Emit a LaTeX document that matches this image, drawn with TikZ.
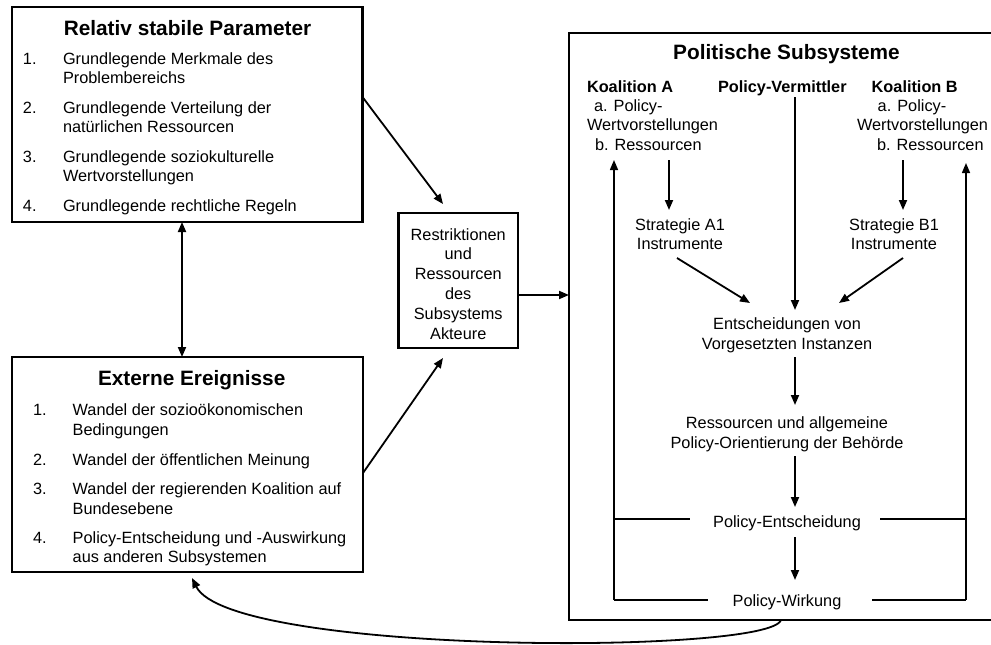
\documentclass[tikz,border=0pt]{standalone}
\usepackage{fontspec}
\setmainfont{Liberation Sans}
\usetikzlibrary{arrows.meta}
\begin{document}
\begin{tikzpicture}[x=1pt,y=-1pt,
  every node/.style={inner sep=0pt, outer sep=0pt},
  txt/.style={font=\fontsize{16.3}{19.5}\selectfont, anchor=base},
  txtw/.style={txt, anchor=base west},
  ttl/.style={font=\bfseries\fontsize{20.8}{24}\selectfont, anchor=base},
  sub/.style={font=\bfseries\fontsize{16.3}{19.5}\selectfont, anchor=base west},
  frame/.style={draw, line width=2.6pt},
  arr/.style={line width=1.8pt, -{Triangle[length=10pt,width=8pt]}},
  dbl/.style={line width=1.8pt, {Triangle[length=10pt,width=8pt]}-{Triangle[length=10pt,width=8pt]}},
  thinline/.style={line width=1.1pt},
  sideline/.style={line width=1.5pt, -{Triangle[length=10pt,width=8pt]}},
]
\useasboundingbox (0,0) rectangle (991,645);

% ---------- frames ----------
\node[frame, minimum width=350.5pt, minimum height=215pt] (rsp) at (187.25,114.5) {};
\node[frame, minimum width=351pt, minimum height=215pt] (ee) at (187.5,464.5) {};
\node[frame, line width=2.4pt, minimum width=119.5pt, minimum height=135pt] (mid) at (458.25,280.5) {};
\node[frame, minimum width=430pt, minimum height=587pt] (pss) at (784,326.5) {};

% ---------- box 1 ----------
\node[ttl] (t1) at (187.5,35) {Relativ stabile Parameter};
\node[txtw] (n11) at (23,64.5) {1.};
\node[txtw] (a11) at (63,64.5) {Grundlegende Merkmale des};
\node[txtw] (a12) at (63,83.5) {Problembereichs};
\node[txtw] (n12) at (23,113.5) {2.};
\node[txtw] (a21) at (63,113.5) {Grundlegende Verteilung der};
\node[txtw] (a22) at (63,132.5) {natürlichen Ressourcen};
\node[txtw] (n13) at (23,162.5) {3.};
\node[txtw] (a31) at (63,162.5) {Grundlegende soziokulturelle};
\node[txtw] (a32) at (63,181.5) {Wertvorstellungen};
\node[txtw] (n14) at (23,211.5) {4.};
\node[txtw] (a41) at (63,211.5) {Grundlegende rechtliche Regeln};

% ---------- box 2 ----------
\node[ttl] (t2) at (191.7,385) {Externe Ereignisse};
\node[txtw] (n21) at (33,415) {1.};
\node[txtw] (b11) at (72.7,415) {Wandel der sozioökonomischen};
\node[txtw] (b12) at (72.7,435) {Bedingungen};
\node[txtw] (n22) at (33,465) {2.};
\node[txtw] (b21) at (72.7,465) {Wandel der öffentlichen Meinung};
\node[txtw] (n23) at (33,494.5) {3.};
\node[txtw] (b31) at (72.7,494.5) {Wandel der regierenden Koalition auf};
\node[txtw] (b32) at (72.7,514.5) {Bundesebene};
\node[txtw] (n24) at (33,543) {4.};
\node[txtw] (b41) at (72.7,543) {Policy-Entscheidung und -Auswirkung};
\node[txtw] (b42) at (72.7,562) {aus anderen Subsystemen};

% ---------- middle box ----------
\node[txt] (m1) at (458.25,240) {Restriktionen};
\node[txt] (m2) at (458.25,259.8) {und};
\node[txt] (m3) at (458.25,279.6) {Ressourcen};
\node[txt] (m4) at (458.25,299.4) {des};
\node[txt] (m5) at (458.25,319.2) {Subsystems};
\node[txt] (m6) at (458.25,339) {Akteure};

% ---------- right box ----------
\node[ttl] (t3) at (786.5,59) {Politische Subsysteme};
\node[sub] (ka) at (587,92) {Koalition A};
\node[txtw] (ka1) at (594,111) {a. Policy-};
\node[txtw] (ka2) at (587,130.5) {Wertvorstellungen};
\node[txtw] (ka3) at (595,150) {b. Ressourcen};
\node[sub] (pv) at (718,92) {Policy-Vermittler};
\node[sub] (kb) at (871.7,92) {Koalition B};
\node[txtw] (kb1) at (877.7,111) {a. Policy-};
\node[txtw] (kb2) at (857,130.5) {Wertvorstellungen};
\node[txtw] (kb3) at (877,150) {b. Ressourcen};
\node[txt] (sa1) at (680,230) {Strategie A1};
\node[txt] (sa2) at (680,249.5) {Instrumente};
\node[txt] (sb1) at (894,230) {Strategie B1};
\node[txt] (sb2) at (894,249.5) {Instrumente};
\node[txt] (ev1) at (787,329) {Entscheidungen von};
\node[txt] (ev2) at (787,349) {Vorgesetzten Instanzen};
\node[txt] (rb1) at (787,428) {Ressourcen und allgemeine};
\node[txt] (rb2) at (787,448) {Policy-Orientierung der Behörde};
\node[txt] (pe) at (787,527) {Policy-Entscheidung};
\node[txt] (pw) at (787,606.7) {Policy-Wirkung};

% ---------- helper coordinates ----------
\coordinate (x182) at (182,0);
\coordinate (y97) at (0,97);
\coordinate (y295) at (0,295);
\coordinate (y473) at (0,473);
\coordinate (midTop) at (443,204);
\coordinate (midBot) at (443,358);
\coordinate (aDn1) at (669,160);
\coordinate (aDn2) at (669,210);
\coordinate (bDn1) at (903,160);
\coordinate (bDn2) at (903,210);
\coordinate (pv1) at (795,97);
\coordinate (pv2) at (795,310);
\coordinate (da1) at (677,258);
\coordinate (da2) at (750,303);
\coordinate (db1) at (903,258);
\coordinate (db2) at (839,303);
\coordinate (c1a) at (795,357);
\coordinate (c1b) at (795,405);
\coordinate (c2a) at (795,456);
\coordinate (c2b) at (795,507);
\coordinate (c3a) at (795,537);
\coordinate (c3b) at (795,580);
\coordinate (LB) at (614,600);
\coordinate (LT) at (614,160);
\coordinate (RB) at (966,600);
\coordinate (RT) at (966,163);
\coordinate (LE) at (614,519);
\coordinate (RE) at (966,519);
\coordinate (pel) at (690,519);
\coordinate (per) at (880,519);
\coordinate (pwl) at (708,600);
\coordinate (pwr) at (872,600);
\coordinate (cs) at (781,0);
\coordinate (ce) at (192,578);

% ---------- connectors ----------
\draw[dbl] (rsp.south -| x182) -- (ee.north -| x182);
\draw[arr] (rsp.east |- y97) -- (midTop);
\draw[arr] (ee.east |- y473) -- (midBot);
\draw[arr] (mid.east |- y295) -- (pss.west |- y295);

\draw[sideline] (LB) -- (LT);
\draw[sideline] (RB) -- (RT);
\draw[thinline] (LB) -- (pwl);
\draw[thinline] (pwr) -- (RB);
\draw[thinline] (LE) -- (pel);
\draw[thinline] (per) -- (RE);

\draw[arr] (aDn1) -- (aDn2);
\draw[arr] (bDn1) -- (bDn2);
\draw[arr] (pv1) -- (pv2);
\draw[arr] (da1) -- (da2);
\draw[arr] (db1) -- (db2);
\draw[arr] (c1a) -- (c1b);
\draw[arr] (c2a) -- (c2b);
\draw[arr] (c3a) -- (c3b);

\draw[arr] (pss.south -| cs) .. controls (770,655) and (230,655) .. (ce);
\end{tikzpicture}
\end{document}
